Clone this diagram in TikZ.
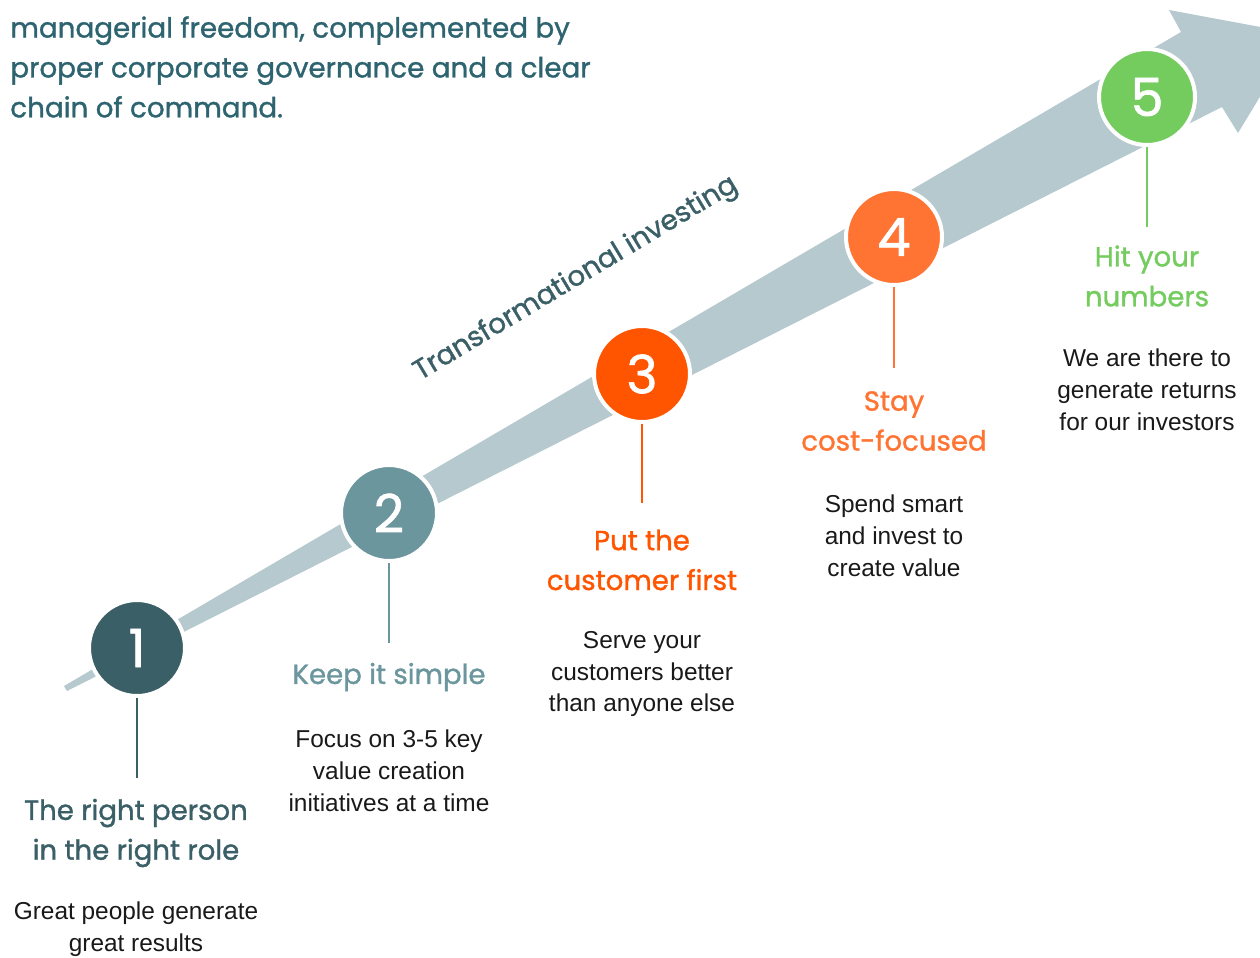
\documentclass[tikz,border=0pt]{standalone}
\usepackage{fontspec}
\setmainfont{Liberation Sans}
\newfontfamily\headfont{Poppins}[FakeBold=1.2]

\definecolor{teal1}{HTML}{3B5F66}
\definecolor{teal2}{HTML}{6B969D}
\definecolor{redorange}{HTML}{FF5500}
\definecolor{orange4}{HTML}{FF7433}
\definecolor{green5}{HTML}{74CC5F}
\definecolor{bandgray}{HTML}{B5C9CF}
\definecolor{headteal}{HTML}{2E6470}

\tikzset{
    stepdot/.style={circle, fill=#1, draw=white, line width=0.08cm,
        minimum size=1.92cm, inner sep=0pt, text=white,
        font=\headfont\fontsize{30}{30}\selectfont},
    stem/.style={line width=0.04cm, draw=#1},
    steptitle/.style={text=#1, align=center,
        font=\headfont\fontsize{15.7}{22.7}\selectfont},
    stepbody/.style={align=center, text=black!90,
        font=\fontsize{13.9}{18.1}\selectfont}
}

\begin{document}
\begin{tikzpicture}[x=0.02cm, y=-0.02cm]
    \useasboundingbox (0,0) rectangle (1260,957);
    \clip (0,0) rectangle (1260,957);

    % Header text
    \node[anchor=north west, align=left, inner sep=0pt, text=headteal,
        font=\headfont\fontsize{15.8}{22.7}\selectfont] (head) at (10,16)
        {managerial freedom, complemented by\\
         proper corporate governance and a clear\\
         chain of command.};

    % Rising arrow
    \fill[bandgray]
    (64,686) -- (1181,32) -- (1169,10) -- (1298,34)
    -- (1238,133) -- (1222,107) -- (67,691) -- cycle;

    \node[rotate=31, text=teal1,
        font=\headfont\fontsize{15.8}{18}\selectfont] (tag) at (576,279)
        {Transformational investing};

    % Steps
    \node[stepdot=teal1] (c1) at (137,648) {1};
    \node[stepdot=teal2] (c2) at (389,513) {2};
    \node[stepdot=redorange] (c3) at (642,374) {3};
    \node[stepdot=orange4] (c4) at (894,237) {4};
    \node[stepdot=green5] (c5) at (1147,97) {5};

    \coordinate (s1) at (137,778);
    \coordinate (s2) at (389,643);
    \coordinate (s3) at (642,503);
    \coordinate (s4) at (894,368);
    \coordinate (s5) at (1147,227);

    \draw[stem=teal1] (c1.south) -- (s1);
    \draw[stem=teal2] (c2.south) -- (s2);
    \draw[stem=redorange] (c3.south) -- (s3);
    \draw[stem=orange4] (c4.south) -- (s4);
    \draw[stem=green5] (c5.south) -- (s5);

    % Titles
    \node[steptitle=teal1] (t1) at (136,833) {The right person\\in the right role};
    \node[steptitle=teal2] (t2) at (389,677) {Keep it simple};
    \node[steptitle=redorange] (t3) at (642,560) {Put the\\customer first};
    \node[steptitle=orange4] (t4) at (894,421) {Stay\\cost-focused};
    \node[steptitle=green5] (t5) at (1147,276) {Hit your\\numbers};

    % Descriptions
    \node[stepbody] (b1) at (136,929) {Great people generate\\great results};
    \node[stepbody] (b2) at (389,771) {Focus on 3-5 key\\value creation\\initiatives at a time};
    \node[stepbody] (b3) at (642,674) {Serve your\\customers better\\than anyone else};
    \node[stepbody] (b4) at (894,536) {Spend smart\\and invest to\\create value};
    \node[stepbody] (b5) at (1147,390) {We are there to\\generate returns\\for our investors};
\end{tikzpicture}
\end{document}
